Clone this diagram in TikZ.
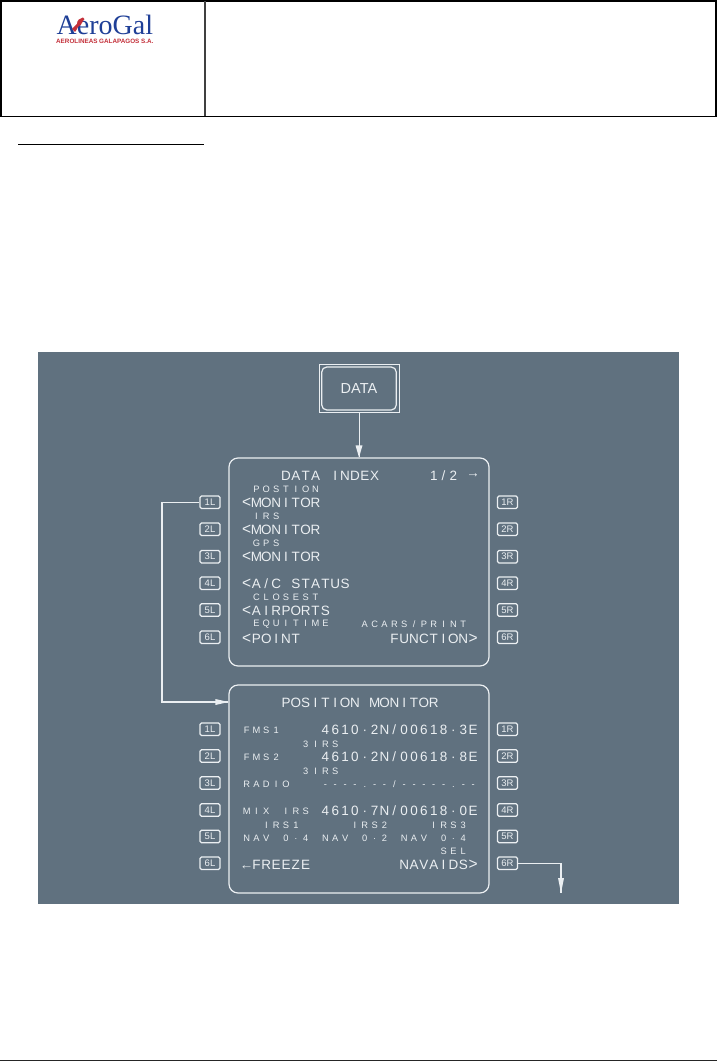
\documentclass[tikz,border=0pt]{standalone}
\usepackage{fontspec}
\setmainfont{Liberation Sans}
\newfontfamily\logof{Liberation Serif}
\definecolor{panel}{HTML}{60717F}
\definecolor{ink}{HTML}{EBEFF2}
\definecolor{logoblue}{HTML}{1F3F97}
\definecolor{logored}{HTML}{C4303A}
\makeatletter
\newcommand\gridtxt[1]{\@tfor\gch:=#1\do{\makebox[9.85pt][c]{\gch}}}
\makeatother
\newcommand\cx[1]{241.5+#1*9.85}
\newcommand\lt{\scalebox{1.15}[1.2]{<}}
\newcommand\gt{\scalebox{1.15}[1.2]{>}}
\tikzset{
  big/.style={text=ink,inner sep=0pt,anchor=west,font=\fontsize{13.5}{13.5}\selectfont},
  sml/.style={text=ink,inner sep=0pt,anchor=west,font=\fontsize{9.3}{9.3}\selectfont},
  keybox/.style={draw=ink,line width=1.2pt,rounded corners=1.5pt,minimum width=20pt,minimum height=12.5pt,inner sep=0pt,text=ink,font=\fontsize{9.5}{9.5}\selectfont},
  screen/.style={draw=ink,line width=1.2pt,rounded corners=9pt,minimum width=260pt,minimum height=208pt,inner sep=0pt},
  link/.style={draw=ink,line width=1.2pt},
  thinlink/.style={draw=ink,line width=0.9pt},
  arrowhead/.style={fill=ink,draw=none},
}
\begin{document}
\begin{tikzpicture}[x=1pt,y=-1pt]
\useasboundingbox (0,0) rectangle (717,1062);
\fill[white] (0,0) rectangle (717,1062);
% header
\draw[black,line width=1.6pt] (1,1) rectangle (716,116.5);
\draw[black!75,line width=1.3pt] (205,1) -- (205,116.5);
\draw[black,line width=0.9pt] (18,144.3) -- (204,144.3);
\draw[black!85,line width=0.9pt] (0,1060.8) -- (717,1060.8);
% logo
\node[anchor=base west,inner sep=0pt,text=logoblue,font=\logof\fontsize{28}{28}\selectfont] (logo) at (56.5,35) {AeroGal};
\node[anchor=west,inner sep=0pt,text=logored,font=\bfseries\fontsize{6.3}{6.3}\selectfont] (logosub) at (56,41.6) {AEROLINEAS GALAPAGOS S.A.};
\fill[logored] (72,29) .. controls (73,26) and (76,27) .. (77,24) .. controls (77,20) and (80,18) .. (83,17.5) .. controls (85,18) and (85,20) .. (83,21) .. controls (82,24) and (80,26) .. (78,27) .. controls (77,29) and (76,31) .. (75,32) .. controls (74,31) and (73,30) .. (72,29) -- cycle;
% panel
\fill[panel] (38,352) rectangle (679,904);
% DATA key
\node[draw=ink,line width=1pt,minimum width=80pt,minimum height=48pt,inner sep=0pt] (dataouter) at (359,388) {};
\node[draw=ink,line width=1.2pt,rounded corners=5pt,minimum width=74.5pt,minimum height=43pt,inner sep=0pt,text=ink,font=\fontsize{14.5}{14.5}\selectfont] (datakey) at (359,388.5) {DATA};
% screens
\node[screen] (index) at (359,562) {};
\node[screen] (posmon) at (359,789) {};
% keys
\foreach \n/\y in {1/502.3,2/529.3,3/556.7,4/583.3,5/610,6/637.3}{
  \node[keybox] (aL\n) at (210,\y) {\n L};
  \node[keybox] (aR\n) at (507.5,\y) {\n R};
}
\foreach \n/\y in {1/729.3,2/756,3/783,4/810,5/836.5,6/863.3}{
  \node[keybox] (bL\n) at (210,\y) {\n L};
  \node[keybox] (bR\n) at (507.5,\y) {\n R};
}
% connectors
\coordinate (c1) at (162,502.3);
\coordinate (c2) at (162,702);
\coordinate (c3) at (561,863.3);
\coordinate (c4) at (561,893);
\coordinate (ptop) at (index.north);
\draw[thinlink] (dataouter.south -| ptop) -- (ptop);
\draw[link] (aL1.west) -- (c1) -- (c2) -- (c2 -| posmon.west);
\draw[link] (bR6.east) -- (c3) -- (c4);
\fill[arrowhead] (ptop) -- ++(-3.5,-12) -- ++(7,0) -- cycle;
\fill[arrowhead] (c2 -| posmon.west) -- ++(-13,-3) -- ++(0,6) -- cycle;
\fill[arrowhead] (c4) -- ++(-3,-15) -- ++(6,0) -- cycle;
% DATA INDEX
\node[big] (t1) at ({\cx{4}},476) {\gridtxt{DATA~INDEX}};
\node[big] (t2) at ({\cx{19}},476) {\gridtxt{1/2}};
\node[big] (t3) at ({\cx{22.8}},476) {→};
\node[sml] (t4) at ({\cx{1}},489) {\gridtxt{POSTION}};
\node[big] (t5) at ({\cx{0}},502.5) {\gridtxt{{\lt}MONITOR}};
\node[sml] (t6) at ({\cx{1}},516.5) {\gridtxt{IRS}};
\node[big] (t7) at ({\cx{0}},530) {\gridtxt{{\lt}MONITOR}};
\node[sml] (t8) at ({\cx{1}},543.5) {\gridtxt{GPS}};
\node[big] (t9) at ({\cx{0}},557) {\gridtxt{{\lt}MONITOR}};
\node[big] (t10) at ({\cx{0}},584) {\gridtxt{{\lt}A/C~STATUS}};
\node[sml] (t11) at ({\cx{1}},597.5) {\gridtxt{CLOSEST}};
\node[big] (t12) at ({\cx{0}},611) {\gridtxt{{\lt}AIRPORTS}};
\node[sml] (t13) at ({\cx{1}},624.5) {\gridtxt{EQUITIME}};
\node[sml] (t14) at ({\cx{12}},624.5) {\gridtxt{ACARS/PRINT}};
\node[big] (t15) at ({\cx{0}},638.5) {\gridtxt{{\lt}POINT}};
\node[big] (t16) at ({\cx{15}},638.5) {\gridtxt{FUNCTION{\gt}}};
% POSITION MONITOR
\node[big] (u1) at ({\cx{4}},703) {\gridtxt{POSITION~MONITOR}};
\node[sml] (u2) at ({\cx{0}},730) {\gridtxt{FMS1}};
\node[big] (u3) at ({\cx{8}},730) {\gridtxt{4610·2N/00618·3E}};
\node[sml] (u4) at ({\cx{6}},744) {\gridtxt{3IRS}};
\node[sml] (u5) at ({\cx{0}},757) {\gridtxt{FMS2}};
\node[big] (u6) at ({\cx{8}},757) {\gridtxt{4610·2N/00618·8E}};
\node[sml] (u7) at ({\cx{6}},771) {\gridtxt{3IRS}};
\node[sml] (u8) at ({\cx{0}},784) {\gridtxt{RADIO}};
\node[sml] (u9) at ({\cx{8}},784) {\gridtxt{----.--/-----.--}};
\node[sml] (u10) at ({\cx{0}},811) {\gridtxt{MIX~IRS}};
\node[big] (u11) at ({\cx{8}},811) {\gridtxt{4610·7N/00618·0E}};
\node[sml] (u12) at ({\cx{2}},825) {\gridtxt{IRS1}};
\node[sml] (u13) at ({\cx{11}},825) {\gridtxt{IRS2}};
\node[sml] (u14) at ({\cx{19}},825) {\gridtxt{IRS3}};
\node[sml] (u15) at ({\cx{0}},838) {\gridtxt{NAV~0·4}};
\node[sml] (u16) at ({\cx{8}},838) {\gridtxt{NAV~0·2}};
\node[sml] (u17) at ({\cx{16}},838) {\gridtxt{NAV~0·4}};
\node[sml] (u18) at ({\cx{20}},851) {\gridtxt{SEL}};
\node[big] (u19) at ({\cx{0}},865) {\gridtxt{←FREEZE}};
\node[big] (u20) at ({\cx{16}},865) {\gridtxt{NAVAIDS{\gt}}};
\end{tikzpicture}
\end{document}
